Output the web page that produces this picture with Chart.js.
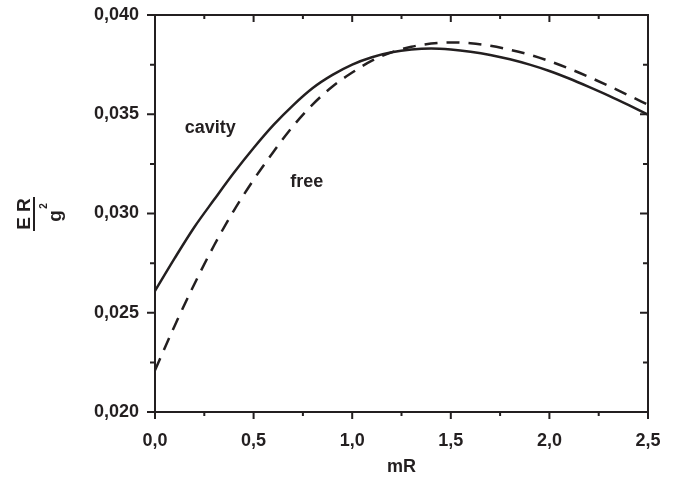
<!DOCTYPE html>
<html>
<head>
<meta charset="utf-8">
<script src="https://cdn.jsdelivr.net/npm/chart.js@4/dist/chart.umd.min.js"></script>
<style>
  html, body { margin: 0; padding: 0; background: #fff; }
  #wrap { width: 688px; height: 485px; }
</style>
</head>
<body>
<div id="wrap"><canvas id="myChart" width="688" height="485"></canvas></div>
<script>
// values
const mR = [0, 0.1, 0.2, 0.3, 0.4, 0.5, 0.6, 0.7, 0.8, 0.9, 1.0, 1.1, 1.2,
  1.3, 1.4, 1.5, 1.6, 1.7, 1.8, 1.9, 2.0, 2.1, 2.2, 2.3, 2.4, 2.5];
const cavity = [0.0261, 0.02775, 0.02932, 0.0307, 0.03205, 0.0333, 0.03445,
  0.03545, 0.03632, 0.03698, 0.0375, 0.03787, 0.03812, 0.03826, 0.03831,
  0.03826, 0.03815, 0.03799, 0.03777, 0.0375, 0.03718, 0.0368, 0.03638,
  0.03594, 0.03547, 0.03498];
const free = [0.0221, 0.02435, 0.02645, 0.0284, 0.03015, 0.0317, 0.0331,
  0.0344, 0.0355, 0.0364, 0.0371, 0.0377, 0.03812, 0.0384, 0.03856, 0.03862,
  0.03858, 0.03845, 0.03825, 0.038, 0.03768, 0.0373, 0.03688, 0.03643,
  0.03596, 0.03548];
const xTicks = [0, 0.5, 1.0, 1.5, 2.0, 2.5];
const yTicks = [0.020, 0.025, 0.030, 0.035, 0.040];
const curveNotes = [
  { text: "cavity", x: 0.28, y: 0.0343 },
  { text: "free", x: 0.77, y: 0.0316 },
];

const ink = "#231f20";
const fontFam = "'Liberation Sans', Arial, sans-serif";

function toPoints(ys) {
  return mR.map(function (x, i) {
    return { x: x, y: ys[i] };
  });
}

// frame, minor/major ticks, y title and the curve notes
const decor = {
  id: "decor",
  afterDatasetsDraw(chart) {
    const { ctx, chartArea: a, scales } = chart;
    const x = scales.x;
    const y = scales.y;
    ctx.save();
    ctx.strokeStyle = ink;
    ctx.lineWidth = 2;
    ctx.strokeRect(a.left, a.top, a.right - a.left, a.bottom - a.top);

    // x ticks (every 0.25)
    for (let i = 0; i <= 10; i++) {
      const px = x.getPixelForValue(i * 0.25);
      const len = i % 2 === 0 ? 7 : 4;
      ctx.beginPath();
      ctx.moveTo(px, a.bottom);
      ctx.lineTo(px, a.bottom + len);
      ctx.moveTo(px, a.top);
      ctx.lineTo(px, a.top + len);
      ctx.stroke();
    }
    // y ticks (every 0.0025)
    for (let i = 0; i <= 8; i++) {
      const py = y.getPixelForValue(0.02 + i * 0.0025);
      const len = i % 2 === 0 ? 8 : 5;
      ctx.beginPath();
      ctx.moveTo(a.left - len, py);
      ctx.lineTo(a.left, py);
      ctx.moveTo(a.right - len, py);
      ctx.lineTo(a.right, py);
      ctx.stroke();
    }

    ctx.fillStyle = ink;
    ctx.font = "bold 18px " + fontFam;
    ctx.textAlign = "center";
    ctx.textBaseline = "middle";
    curveNotes.forEach(function (n) {
      ctx.fillText(n.text, x.getPixelForValue(n.x), y.getPixelForValue(n.y));
    });

    // y title: E R over g^2, rotated
    ctx.translate(25, 214);
    ctx.rotate(-Math.PI / 2);
    ctx.font = "bold 19px " + fontFam;
    ctx.textBaseline = "middle";
    ctx.textAlign = "center";
    ctx.fillText("E R", 0, 0);
    ctx.lineWidth = 2;
    ctx.beginPath();
    ctx.moveTo(-17, 9);
    ctx.lineTo(17, 9);
    ctx.stroke();
    ctx.textBaseline = "alphabetic";
    ctx.fillText("g", -2, 36);
    ctx.font = "bold 10px " + fontFam;
    ctx.fillText("2", 8, 22);
    ctx.restore();
  },
};

const chart = new Chart(document.querySelector("#myChart"), {
  type: "line",
  data: {
    datasets: [
      {
        label: "cavity",
        data: toPoints(cavity),
        borderColor: ink,
        borderWidth: 2.5,
        pointRadius: 0,
        cubicInterpolationMode: "monotone",
      },
      {
        label: "free",
        data: toPoints(free),
        borderColor: ink,
        borderWidth: 2.5,
        borderDash: [13, 9],
        pointRadius: 0,
        cubicInterpolationMode: "monotone",
      },
    ],
  },
  options: {
    responsive: false,
    animation: false,
    layout: { padding: { top: 15, right: 40, left: 0, bottom: 0 } },
    plugins: { legend: { display: false }, tooltip: { enabled: false } },
    scales: {
      x: {
        type: "linear",
        min: 0,
        max: 2.5,
        afterBuildTicks(scale) {
          scale.ticks = xTicks.map(function (v) { return { value: v }; });
        },
        afterFit(scale) { scale.height = 73; },
        grid: { display: false, drawTicks: false },
        border: { display: false },
        ticks: {
          padding: 18,
          color: ink,
          font: { family: fontFam, size: 18, weight: "bold" },
          callback: function (v) { return v.toFixed(1).replace(".", ","); },
        },
        title: {
          display: true,
          text: "mR",
          color: ink,
          font: { family: fontFam, size: 18, weight: "bold" },
          padding: { top: 0, bottom: 7 },
        },
      },
      y: {
        type: "linear",
        min: 0.02,
        max: 0.04,
        afterBuildTicks(scale) {
          scale.ticks = yTicks.map(function (v) { return { value: v }; });
        },
        afterFit(scale) {
          scale.width = 155;
          scale.paddingTop = 0;
          scale.paddingBottom = 0;
        },
        grid: { display: false, drawTicks: false },
        border: { display: false },
        ticks: {
          padding: 16,
          color: ink,
          font: { family: fontFam, size: 18, weight: "bold" },
          callback: function (v) { return v.toFixed(3).replace(".", ","); },
        },
      },
    },
  },
  plugins: [decor],
});
</script>
</body>
</html>
